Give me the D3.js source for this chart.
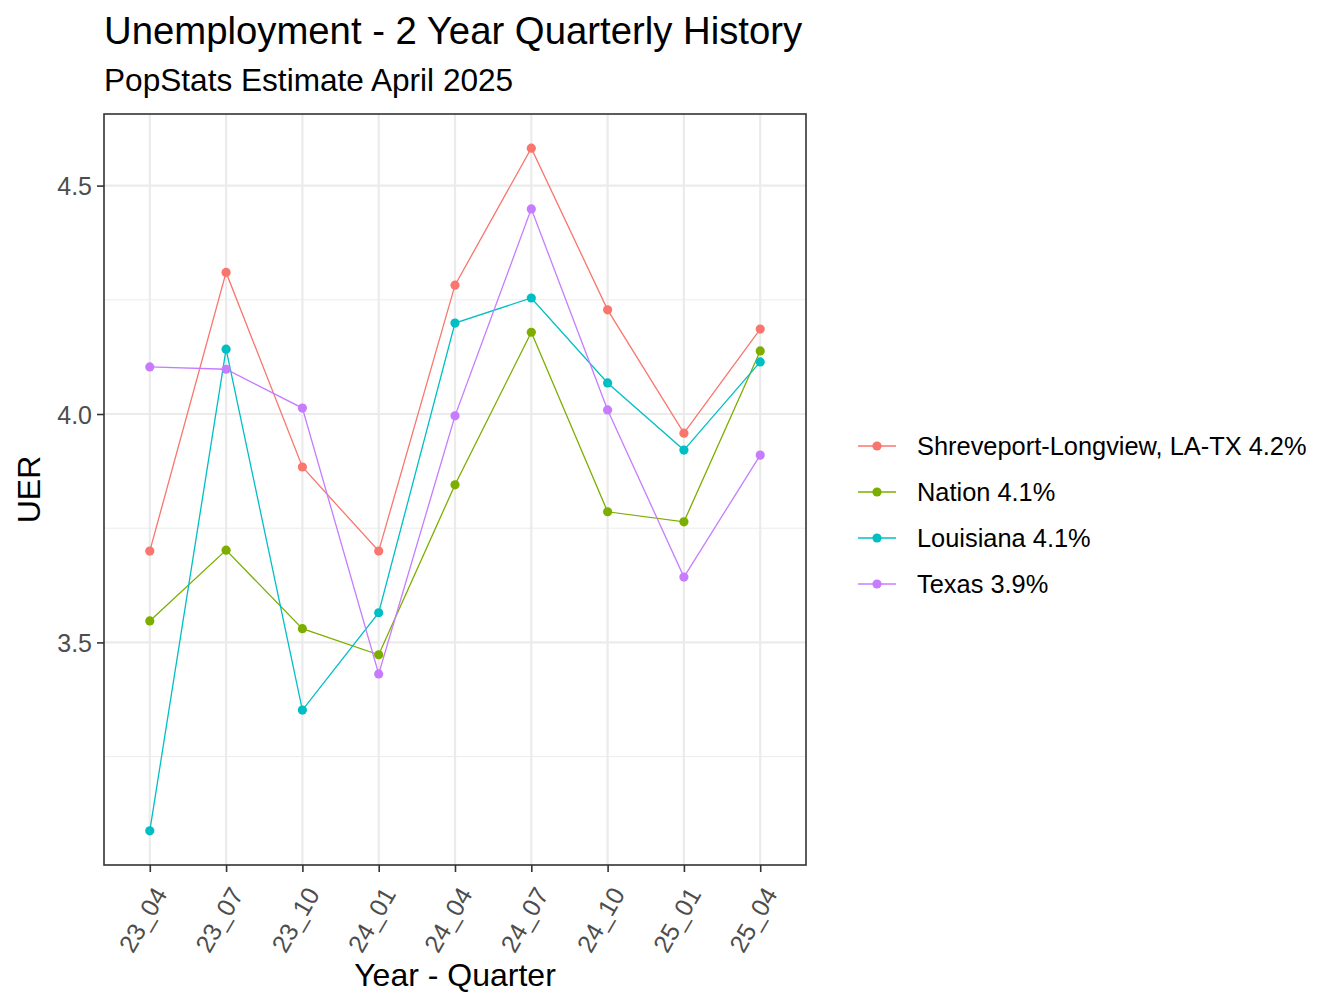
<!DOCTYPE html>
<html>
<head>
<meta charset="utf-8">
<script src="https://cdn.jsdelivr.net/npm/d3@7"></script>
<style>
  body { margin: 0; background: #fff; }
  svg text { font-family: "Liberation Sans", Arial, sans-serif; }
</style>
</head>
<body>
<svg id="chart" width="1344" height="1008"></svg>
<script>
// quarters on the x axis
var quarters = ["23_04", "23_07", "23_10", "24_01", "24_04", "24_07", "24_10", "25_01", "25_04"];

// series
var shreveport = [3.70, 4.31, 3.884, 3.70, 4.282, 4.582, 4.228, 3.958, 4.186];
var nation     = [3.547, 3.702, 3.530, 3.473, 3.845, 4.179, 3.786, 3.764, 4.138];
var louisiana  = [3.0875, 4.142, 3.352, 3.565, 4.199, 4.254, 4.068, 3.921, 4.114];
var texas      = [4.103, 4.098, 4.013, 3.431, 3.996, 4.449, 4.009, 3.643, 3.910];

var seriesNames = ["Shreveport-Longview, LA-TX 4.2%", "Nation 4.1%", "Louisiana 4.1%", "Texas 3.9%"];
var seriesColors = ["#F8766D", "#7CAE00", "#00BFC4", "#C77CFF"];
var yTicks = [3.5, 4.0, 4.5];
var yMinor = [3.25, 3.75, 4.25];

var series = [shreveport, nation, louisiana, texas].map(function(v, i) {
  return {name: seriesNames[i], color: seriesColors[i], values: v};
});

var svg = d3.select("#chart");
var panel = {left: 104, right: 806, top: 114, bottom: 865};

// ggplot style 5% expansion
var all = d3.merge(series.map(function(s) { return s.values; }));
var ext = d3.extent(all), pad = (ext[1] - ext[0]) * 0.05;

var x = d3.scalePoint().domain(quarters).range([panel.left, panel.right]).padding(0.6);
var y = d3.scaleLinear().domain([ext[0] - pad, ext[1] + pad]).range([panel.bottom, panel.top]);

var g = svg.append("g");

// grid
g.selectAll(".minor").data(yMinor).enter().append("line")
  .attr("x1", panel.left).attr("x2", panel.right)
  .attr("y1", function(d) { return y(d); }).attr("y2", function(d) { return y(d); })
  .attr("stroke", "#EBEBEB").attr("stroke-width", 1);
g.selectAll(".major").data(yTicks).enter().append("line")
  .attr("x1", panel.left).attr("x2", panel.right)
  .attr("y1", function(d) { return y(d); }).attr("y2", function(d) { return y(d); })
  .attr("stroke", "#EBEBEB").attr("stroke-width", 2.2);
g.selectAll(".vgrid").data(quarters).enter().append("line")
  .attr("y1", panel.top).attr("y2", panel.bottom)
  .attr("x1", function(d) { return x(d); }).attr("x2", function(d) { return x(d); })
  .attr("stroke", "#EBEBEB").attr("stroke-width", 2.2);

// lines + points
var line = d3.line()
  .x(function(d, i) { return x(quarters[i]); })
  .y(function(d) { return y(d); });

series.forEach(function(s) {
  g.append("path").attr("d", line(s.values))
    .attr("fill", "none").attr("stroke", s.color).attr("stroke-width", 1.3);
  g.selectAll(null).data(s.values).enter().append("circle")
    .attr("cx", function(d, i) { return x(quarters[i]); })
    .attr("cy", function(d) { return y(d); })
    .attr("r", 4.6).attr("fill", s.color);
});

// panel border
g.append("rect").attr("x", panel.left).attr("y", panel.top)
  .attr("width", panel.right - panel.left).attr("height", panel.bottom - panel.top)
  .attr("fill", "none").attr("stroke", "#333333").attr("stroke-width", 1.6);

// y axis
var yAxis = svg.append("g").attr("transform", "translate(" + panel.left + ",0)")
  .call(d3.axisLeft(y).tickValues(yTicks).tickFormat(d3.format(".1f")).tickSize(7).tickPadding(5));
yAxis.select(".domain").remove();
yAxis.selectAll(".tick line").attr("stroke", "#333333").attr("stroke-width", 1.6);
yAxis.selectAll(".tick text").attr("fill", "#4D4D4D").style("font-size", "25px")
  .attr("dy", "0.36em");

// x axis
var xAxis = svg.append("g").attr("transform", "translate(0," + panel.bottom + ")")
  .call(d3.axisBottom(x).tickSize(7).tickFormat(""));
xAxis.select(".domain").remove();
xAxis.selectAll(".tick line").attr("stroke", "#333333").attr("stroke-width", 1.6);
xAxis.selectAll(".tick").append("text")
  .attr("transform", "translate(2,20) rotate(-60)")
  .attr("text-anchor", "end").attr("dy", "0.72em")
  .attr("fill", "#4D4D4D").style("font-size", "25px")
  .text(function(d) { return d; });

// axis titles
svg.append("text").attr("x", (panel.left + panel.right) / 2).attr("y", 986)
  .attr("text-anchor", "middle").style("font-size", "32px").text("Year - Quarter");
svg.append("text").attr("transform", "translate(40," + (panel.top + panel.bottom) / 2 + ") rotate(-90)")
  .attr("text-anchor", "middle").style("font-size", "32px").text("UER");

// titles
svg.append("text").attr("x", 104).attr("y", 44).style("font-size", "38.3px")
  .text("Unemployment - 2 Year Quarterly History");
svg.append("text").attr("x", 104).attr("y", 91).style("font-size", "31.6px")
  .text("PopStats Estimate April 2025");

// legend
var leg = svg.append("g").attr("transform", "translate(858,446)");
var item = leg.selectAll(".item").data(series).enter().append("g")
  .attr("transform", function(d, i) { return "translate(0," + i * 46 + ")"; });
item.append("line").attr("x1", 0).attr("x2", 38)
  .attr("stroke", function(d) { return d.color; }).attr("stroke-width", 1.3);
item.append("circle").attr("cx", 19).attr("r", 4.6).attr("fill", function(d) { return d.color; });
item.append("text").attr("x", 59).attr("dy", "0.36em").style("font-size", "25.4px")
  .text(function(d) { return d.name; });
</script>
</body>
</html>
